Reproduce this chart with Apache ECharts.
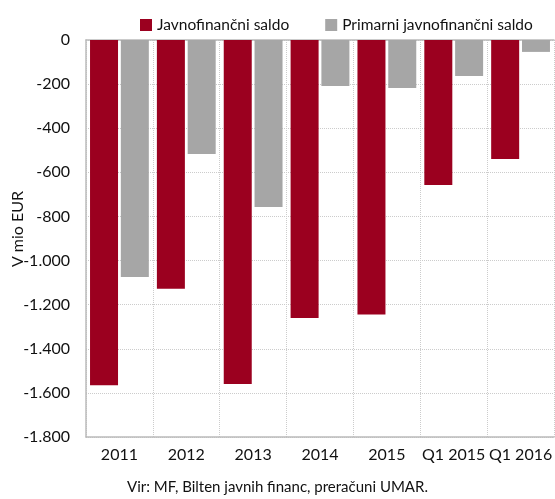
<!DOCTYPE html>
<html>
<head>
<meta charset="utf-8">
<script src="https://cdn.jsdelivr.net/npm/echarts@6/dist/echarts.min.js"></script>
<style>
  html, body { margin: 0; padding: 0; background: #fff; }
  #chart { width: 555px; height: 499px; }
</style>
</head>
<body>
<div id="chart"></div>
<script>
var categories = ['2011', '2012', '2013', '2014', '2015', 'Q1 2015', 'Q1 2016'];
var saldo = [-1565, -1128, -1560, -1260, -1245, -657, -540];
var primarni = [-1075, -517, -757, -208, -218, -163, -54];
var seriesNames = ['Javnofinančni saldo', 'Primarni javnofinančni saldo'];

var font = 'Lato, "Open Sans", sans-serif';

var myChart = echarts.init(document.getElementById('chart'));
var option = {
    animation: false,
    textStyle: { fontFamily: font },
    legend: {
        data: seriesNames,
        top: 12,
        left: 135,
        icon: 'rect',
        itemWidth: 12,
        itemHeight: 12,
        itemGap: 36,
        textStyle: { fontSize: 15.5, color: '#111', fontFamily: font }
    },
    grid: { left: 86, right: 1, top: 40, bottom: 62, outerBoundsMode: 'none', containLabel: false },
    xAxis: [
        {
            type: 'category',
            data: categories,
            position: 'bottom',
            axisLine: { onZero: false, lineStyle: { color: '#bbb', width: 1.5 } },
            axisTick: { show: false },
            axisLabel: { interval: 0, fontSize: 16, color: '#111', margin: 10, fontFamily: font },
            splitLine: { show: true, interval: 0, lineStyle: { color: '#ccc', type: 'dotted' } }
        },
        {
            type: 'category',
            data: categories,
            position: 'top',
            axisLine: { lineStyle: { color: '#bbb', width: 1.5 } },
            axisTick: { show: false },
            axisLabel: { show: false }
        }
    ],
    yAxis: {
        type: 'value',
        min: -1800,
        max: 0,
        interval: 200,
        axisLine: { show: true, lineStyle: { color: '#bbb', width: 1.5 } },
        axisTick: { show: false },
        axisLabel: {
            fontSize: 16,
            color: '#111',
            margin: 16,
            fontFamily: font,
            formatter: function (v) {
                var s = Math.abs(v).toString().replace(/\B(?=(\d{3})+(?!\d))/g, '.');
                return (v < 0 ? '-' : '') + s;
            }
        },
        splitLine: { lineStyle: { color: '#ccc', type: 'dotted' } }
    },
    series: [
        {
            name: seriesNames[0],
            type: 'bar',
            data: saldo,
            barWidth: 28,
            barGap: '10%',
            itemStyle: { color: '#9b001f' }
        },
        {
            name: seriesNames[1],
            type: 'bar',
            data: primarni,
            barWidth: 28,
            itemStyle: { color: '#a6a6a6' }
        }
    ],
    graphic: [
        {
            // y axis title, rotated
            type: 'text',
            x: 18,
            y: 229,
            rotation: Math.PI / 2,
            style: {
                text: 'V mio EUR',
                fontSize: 16,
                fill: '#111',
                fontFamily: font,
                align: 'center',
                verticalAlign: 'middle'
            }
        },
        {
            type: 'text',
            left: 'center',
            top: 480,
            style: {
                text: 'Vir: MF, Bilten javnih financ, preračuni UMAR.',
                fontSize: 15,
                fill: '#111',
                fontFamily: font
            }
        }
    ]
};
myChart.setOption(option);
</script>
</body>
</html>
